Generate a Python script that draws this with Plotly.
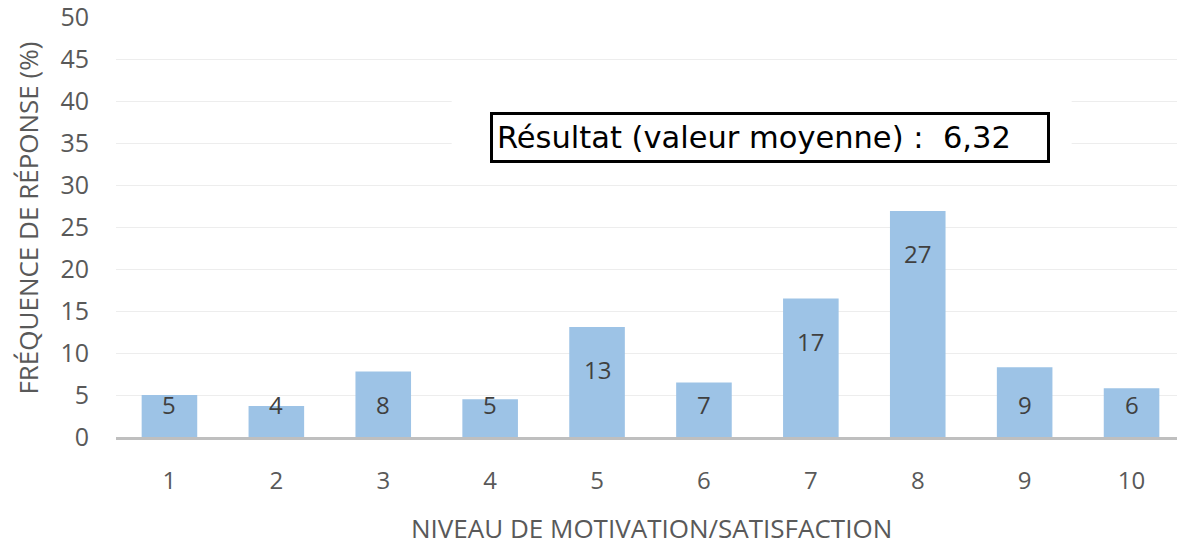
import plotly.graph_objects as go

levels = [1, 2, 3, 4, 5, 6, 7, 8, 9, 10]
frequency = [5.0, 3.7, 7.8, 4.5, 13.1, 6.5, 16.5, 26.9, 8.3, 5.8]
labels = ["5", "4", "8", "5", "13", "7", "17", "27", "9", "6"]
y_ticks = [0, 5, 10, 15, 20, 25, 30, 35, 40, 45, 50]
x_title = "NIVEAU DE MOTIVATION/SATISFACTION"
y_title = "FRÉQUENCE DE RÉPONSE (%)"
result_text = "Résultat (valeur moyenne) :  6,32"

FONT = "Open Sans"
GREY = "#595959"

fig = go.Figure()
fig.add_trace(go.Bar(
    x=levels, y=frequency, width=0.52,
    marker=dict(color="#9DC3E6", line=dict(width=0)),
    hoverinfo="skip",
))

annotations = []
for lv, v, t in zip(levels, frequency, labels):
    annotations.append(dict(
        x=lv, y=max(v - 5.1, 3.9), xref="x", yref="y", text=t, showarrow=False,
        font=dict(family=FONT, size=24, color="#404040"),
    ))

annotations.append(dict(
    x=-0.0823, y=0.52, xref="paper", yref="paper", text=y_title, textangle=-90,
    xanchor="center", yanchor="middle",
    showarrow=False, font=dict(family=FONT, size=26, color=GREY),
))
annotations.append(dict(
    x=0.501, y=-0.217, xref="paper", yref="paper", text=x_title,
    xanchor="center", yanchor="middle",
    showarrow=False, font=dict(family=FONT, size=26, color=GREY),
))
annotations.append(dict(
    x=0.612, y=35.6, xref="paper", yref="y", text=result_text,
    showarrow=False, align="left", width=546, height=37,
    bgcolor="white", bordercolor="black", borderwidth=3, borderpad=4,
    font=dict(family="DejaVu Sans", size=30.5, color="black"),
))

# page body has an 8px default margin, so the figure is sized/offset to compensate
fig.update_layout(
    width=1177, height=540,
    margin=dict(l=108, r=0, t=9, b=111),
    paper_bgcolor="white", plot_bgcolor="white",
    showlegend=False,
    annotations=annotations,
    shapes=[dict(type="rect", xref="paper", yref="y", x0=0.314, x1=0.894,
                 y0=34.3, y1=41.2, fillcolor="white", line=dict(width=0),
                 layer="above")],
    xaxis=dict(
        range=[0.5, 10.5], tickvals=levels, ticktext=[str(l) for l in levels],
        showgrid=False, zeroline=False, showline=True, linecolor="#BFBFBF",
        linewidth=3, ticks="", ticklabelstandoff=20, automargin=False,
        ticklabeloverflow="allow",
        tickfont=dict(family=FONT, size=24, color=GREY),
    ),
    yaxis=dict(
        range=[0, 50], tickvals=y_ticks, showgrid=True, gridcolor="#EDEDED",
        gridwidth=1, zeroline=False, showline=False, ticks="",
        ticklabelstandoff=26, automargin=False, ticklabeloverflow="allow",
        tickfont=dict(family=FONT, size=25, color=GREY),
    ),
)

fig.write_html("out.html")
